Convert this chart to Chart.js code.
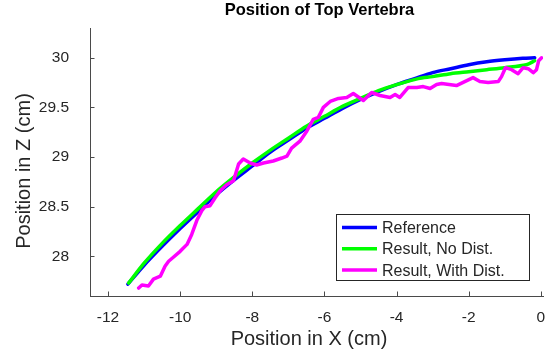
<!DOCTYPE html>
<html>
<head>
<meta charset="utf-8">
<script src="https://cdn.jsdelivr.net/npm/chart.js@4.4.1/dist/chart.umd.min.js"></script>
<style>
  html, body { margin: 0; padding: 0; background: #fff; }
  #wrap { width: 550px; height: 356px; }
</style>
</head>
<body>
<div id="wrap"><canvas id="c" width="550" height="356"></canvas></div>
<script>
// values
const refX = [-11.45, -11, -10.5, -10, -9.5, -9, -8.5, -8, -7.5, -7, -6.5, -6, -5.5, -5, -4.5, -4, -3.5, -3, -2.5, -2, -1.5, -1, -0.5, -0.17];
const refZ = [27.72, 27.91, 28.10, 28.28, 28.45, 28.62, 28.77, 28.91, 29.05, 29.17, 29.29, 29.39, 29.49, 29.58, 29.66, 29.73, 29.79, 29.85, 29.89, 29.93, 29.96, 29.98, 29.995, 30.0];

const noDistX = [-11.43, -11, -10.5, -10, -9.5, -9, -8.5, -8, -7.5, -7, -6.5, -6, -5.5, -5, -4.5, -4, -3.4, -3, -2.5, -2, -1.5, -1, -0.4, -0.17];
const noDistZ = [27.73, 27.93, 28.13, 28.31, 28.48, 28.65, 28.80, 28.94, 29.07, 29.19, 29.31, 29.41, 29.51, 29.59, 29.67, 29.73, 29.79, 29.81, 29.84, 29.86, 29.88, 29.90, 29.93, 29.97];

const withDistX = [-11.15, -11.06, -10.88, -10.74, -10.55, -10.42, -10.32, -10.19, -10.0, -9.81,
  -9.68, -9.54, -9.40, -9.31, -9.17, -9.03, -8.89, -8.71, -8.52, -8.38,
  -8.25, -8.06, -7.88, -7.69, -7.42, -7.18, -7.04, -6.91, -6.68, -6.49,
  -6.31, -6.17, -6.03, -5.84, -5.61, -5.38, -5.20, -4.92, -4.69, -4.46,
  -4.18, -4.04, -3.91, -3.68, -3.44, -3.26, -3.07, -2.89, -2.75, -2.34,
  -2.11, -1.88, -1.69, -1.46, -1.18, -1.09, -0.98, -0.81, -0.63, -0.49,
  -0.35, -0.21, -0.12, -0.06, 0.02];
const withDistZ = [27.68, 27.71, 27.70, 27.77, 27.80, 27.90, 27.95, 27.99, 28.05, 28.12,
  28.22, 28.36, 28.46, 28.50, 28.51, 28.59, 28.66, 28.72, 28.76, 28.93,
  28.98, 28.94, 28.92, 28.94, 28.96, 28.99, 29.01, 29.09, 29.16, 29.26,
  29.38, 29.40, 29.50, 29.56, 29.59, 29.60, 29.64, 29.57, 29.65, 29.62,
  29.60, 29.63, 29.60, 29.70, 29.70, 29.71, 29.69, 29.73, 29.74, 29.72,
  29.76, 29.80, 29.76, 29.75, 29.76, 29.81, 29.90, 29.88, 29.84, 29.90,
  29.89, 29.85, 29.88, 29.97, 30.00];

const xTicks = [-12, -10, -8, -6, -4, -2, 0];
const zTicks = [28, 28.5, 29, 29.5, 30];

const seriesNames = ['Reference', 'Result, No Dist.', 'Result, With Dist.'];
const chartTitle = 'Position of Top Vertebra';
const xLabel = 'Position in X (cm)';
const zLabel = 'Position in Z (cm)';

const FONT = "'Liberation Sans', Arial, Helvetica, sans-serif";
const TEXT = '#262626';
const AXIS = '#4a4a4a';

const pts = (xs, ys) => xs.map((x, i) => ({ x: x, y: ys[i] }));

// MATLAB style: ticks pointing inward, labels, legend box inside the axes
const matlabBits = {
    id: 'matlabBits',
    afterDraw(chart) {
        const ctx = chart.ctx;
        const xs = chart.scales.x, ys = chart.scales.y;
        const area = chart.chartArea;
        ctx.save();
        ctx.strokeStyle = AXIS;
        ctx.lineWidth = 1;
        ctx.beginPath();
        xTicks.forEach(v => {
            const px = Math.round(xs.getPixelForValue(v)) + 0.5;
            ctx.moveTo(px, area.bottom);
            ctx.lineTo(px, area.bottom - 4.5);
        });
        zTicks.forEach(v => {
            const py = Math.round(ys.getPixelForValue(v)) + 0.5;
            ctx.moveTo(area.left, py);
            ctx.lineTo(area.left + 4.5, py);
        });
        ctx.stroke();

        // title and axis labels
        ctx.textAlign = 'center';
        ctx.textBaseline = 'middle';
        ctx.fillStyle = '#000';
        ctx.font = 'bold 16.5px ' + FONT;
        ctx.fillText(chartTitle, 319.5, 10.5);
        ctx.fillStyle = TEXT;
        ctx.font = '20px ' + FONT;
        ctx.fillText(xLabel, 309, 339);
        ctx.save();
        ctx.translate(24, 171);
        ctx.rotate(-Math.PI / 2);
        ctx.fillText(zLabel, 0, 0);
        ctx.restore();

        // legend
        const bx = 336.5, by = 214.5, bw = 193, bh = 66;
        ctx.fillStyle = '#fff';
        ctx.fillRect(bx, by, bw, bh);
        ctx.strokeStyle = '#262626';
        ctx.strokeRect(bx, by, bw, bh);
        ctx.font = '16px ' + FONT;
        ctx.textAlign = 'left';
        chart.data.datasets.forEach((ds, i) => {
            const y = 227.5 + i * 21.3;
            ctx.strokeStyle = ds.borderColor;
            ctx.lineWidth = 3.5;
            ctx.beginPath();
            ctx.moveTo(342, y);
            ctx.lineTo(377, y);
            ctx.stroke();
            ctx.fillStyle = TEXT;
            ctx.fillText(ds.label, 382, y + 1);
        });
        ctx.restore();
    }
};

new Chart(document.getElementById('c'), {
    type: 'scatter',
    data: {
        datasets: [
            { label: seriesNames[0], data: pts(refX, refZ), borderColor: '#0000ff', order: 3 },
            { label: seriesNames[1], data: pts(noDistX, noDistZ), borderColor: '#00ff00', order: 2 },
            { label: seriesNames[2], data: pts(withDistX, withDistZ), borderColor: '#ff00ff', order: 1, tension: 0 },
        ].map(d => Object.assign({
            showLine: true,
            borderWidth: 3.5,
            pointRadius: 0,
            tension: 0.3,
            fill: false,
            borderCapStyle: 'round',
            borderJoinStyle: 'round',
        }, d)),
    },
    options: {
        responsive: false,
        animation: false,
        layout: { padding: { left: 0, right: 7, top: 28, bottom: 0 } },
        plugins: { legend: { display: false }, tooltip: { enabled: false } },
        scales: {
            x: {
                type: 'linear',
                position: 'bottom',
                min: -12.5,
                max: 0.06,
                afterBuildTicks: s => { s.ticks = xTicks.map(v => ({ value: v })); },
                afterFit: s => { s.height = 60; s.paddingLeft = 0; s.paddingRight = 0; },
                grid: { display: false, drawTicks: false },
                border: { display: true, color: AXIS, width: 1 },
                ticks: { color: TEXT, font: { family: FONT, size: 15.5 }, padding: 12, maxRotation: 0, callback: v => String(v) },
            },
            y: {
                type: 'linear',
                position: 'left',
                min: 27.6,
                max: 30.3,
                afterBuildTicks: s => { s.ticks = zTicks.map(v => ({ value: v })); },
                afterFit: s => { s.width = 90; s.paddingTop = 0; s.paddingBottom = 0; },
                grid: { display: false, drawTicks: false },
                border: { display: true, color: AXIS, width: 1 },
                ticks: { color: TEXT, font: { family: FONT, size: 15.5 }, padding: 21, callback: v => String(v) },
            },
        },
    },
    plugins: [matlabBits],
});
</script>
</body>
</html>
